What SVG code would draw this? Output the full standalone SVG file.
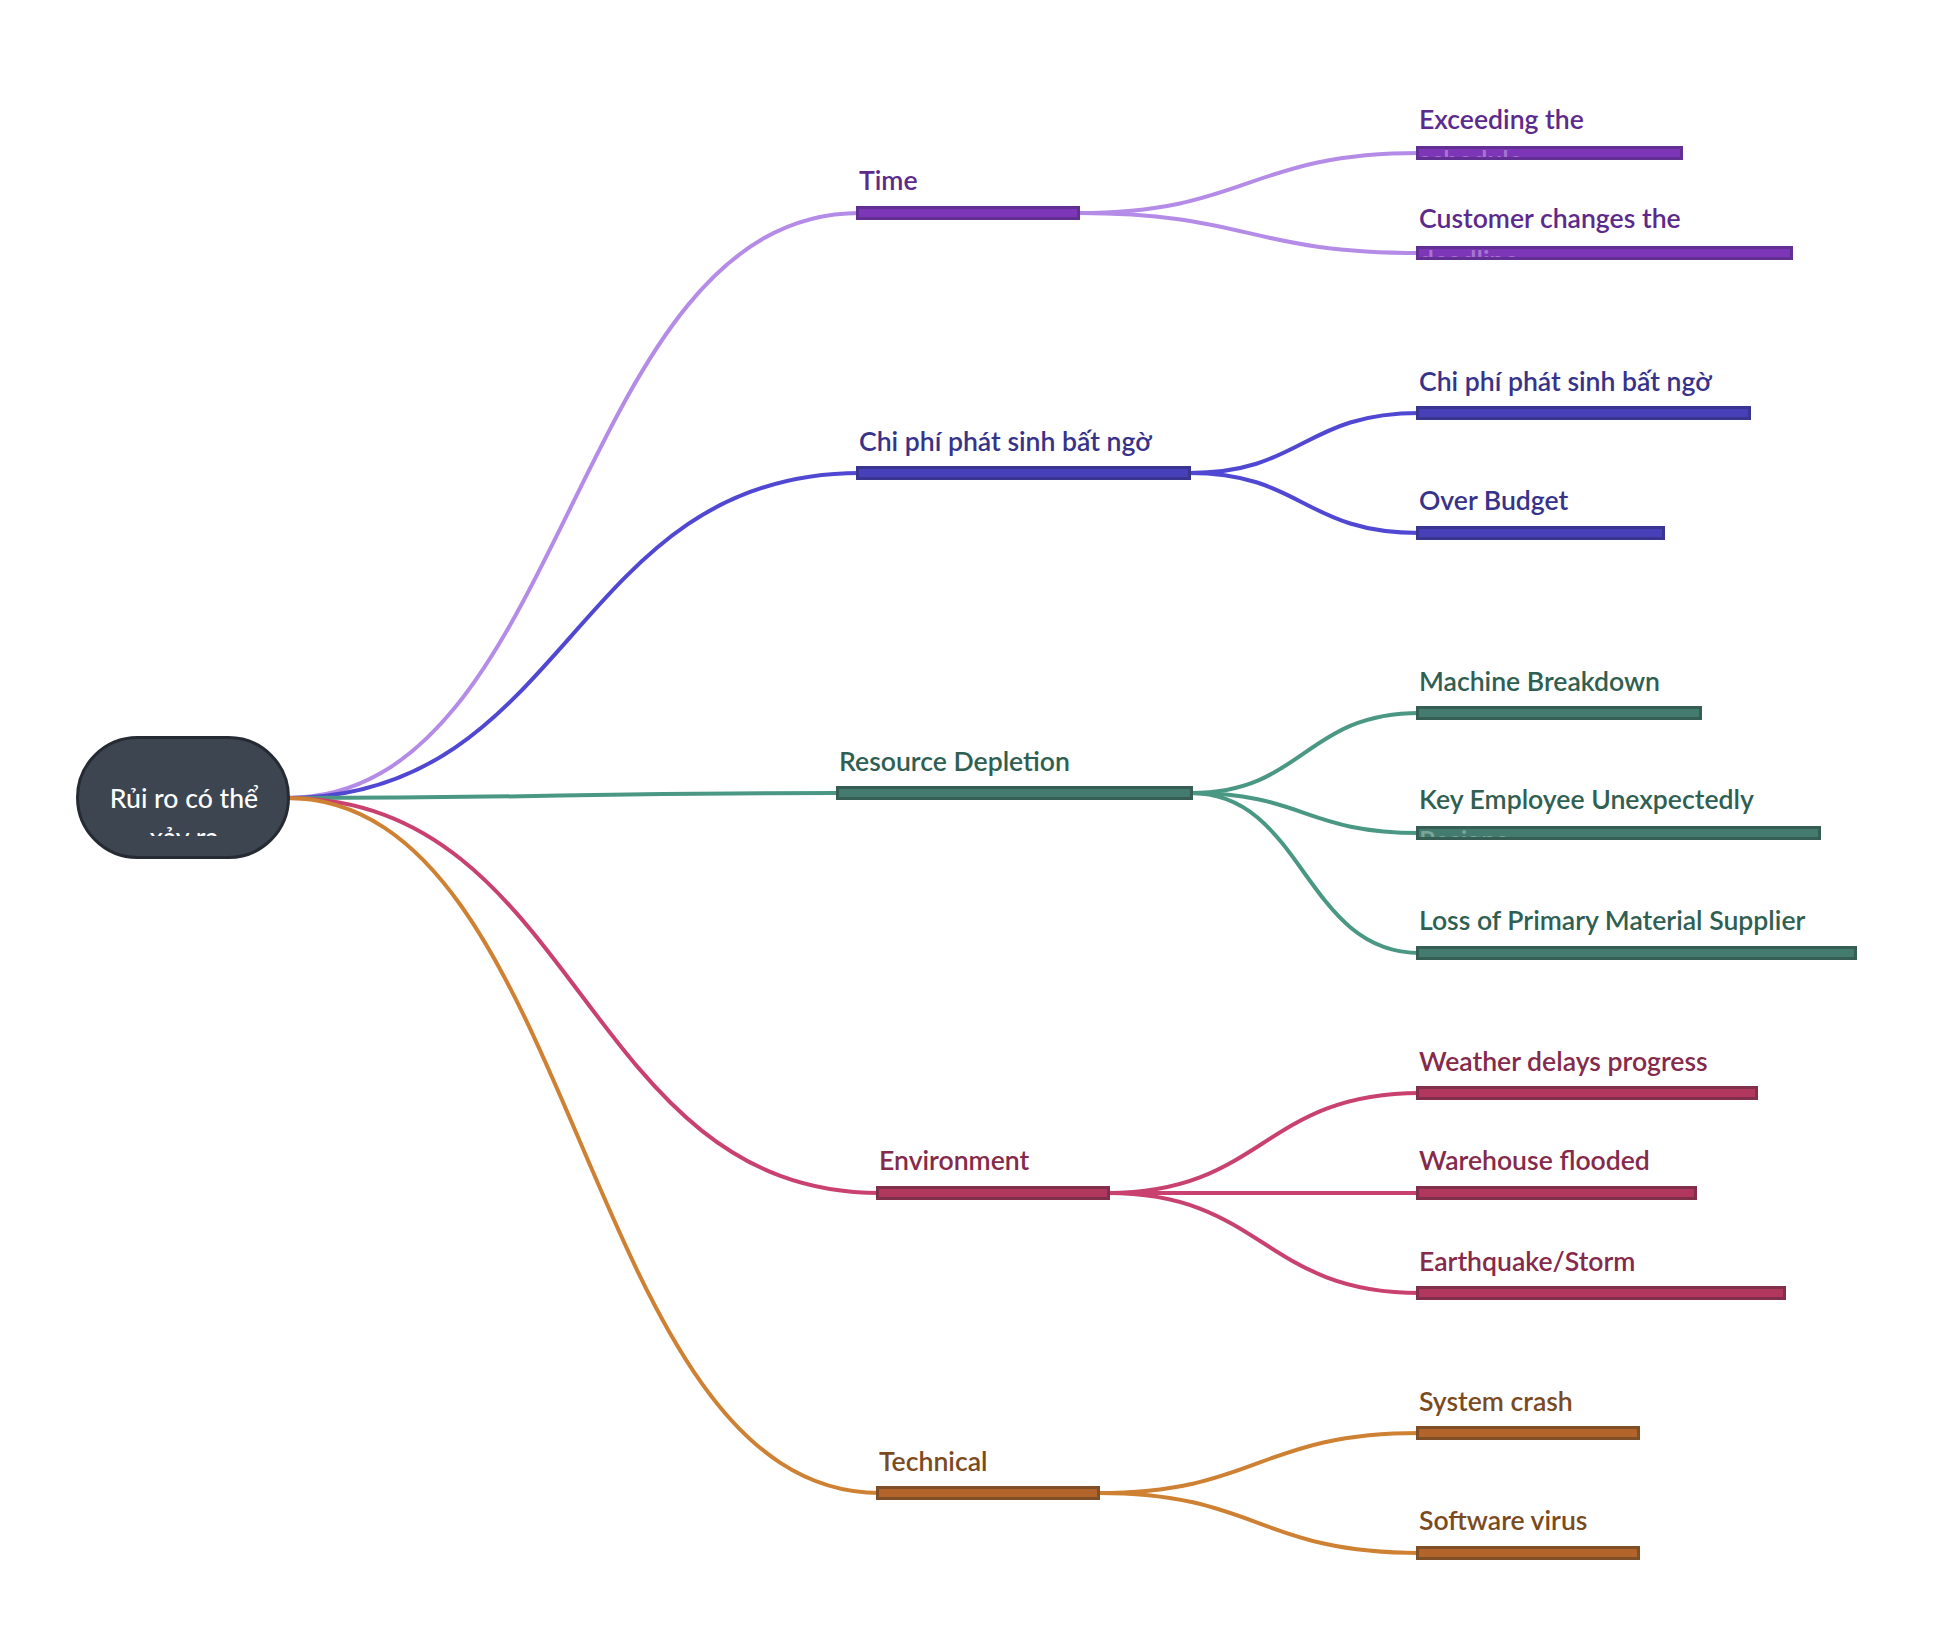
<svg xmlns="http://www.w3.org/2000/svg" width="1933" height="1636" viewBox="0 0 1933 1636">
<style>
.lbl{font-family:Lato,"Noto Sans",sans-serif;font-size:26.6px;font-weight:600}
.conn{fill:none;stroke-width:4;stroke-linecap:round}
.bar{stroke-width:3}
.pu .lbl{fill:#5c2a8c}.pu .bar{fill:#7d36b8;stroke:#613092}.c-pu{stroke:#b48ce8}
.bl .lbl{fill:#37338a}.bl .bar{fill:#4840b8;stroke:#3a3590}.c-bl{stroke:#5047d2}
.gr .lbl{fill:#2f5f52}.gr .bar{fill:#437b6e;stroke:#365e55}.c-gr{stroke:#4a9884}
.rd .lbl{fill:#852a4b}.rd .bar{fill:#b2375e;stroke:#80304a}.c-rd{stroke:#c9426f}
.or .lbl{fill:#7b4a1f}.or .bar{fill:#b2642a;stroke:#7f4f28}.c-or{stroke:#cf8133}
.frag{font-family:Lato,"Noto Sans",sans-serif;font-size:26.6px;font-weight:600;opacity:.4}
</style>
<defs>
<clipPath id="clipRoot"><rect x="76" y="736" width="214" height="100"/></clipPath>
<clipPath id="clipC1"><rect x="1416" y="140" width="300" height="17"/></clipPath>
<clipPath id="clipC2"><rect x="1416" y="240" width="300" height="17"/></clipPath>
<clipPath id="clipC3"><rect x="1416" y="820" width="300" height="17"/></clipPath>
</defs>
<rect width="1933" height="1636" fill="#ffffff"/>
<g id="connectors">
<path class="conn c-pu" d="M287,798 C571,798 571,213 860,213"/>
<path class="conn c-bl" d="M287,798 C571,798 571,473 860,473"/>
<path class="conn c-gr" d="M287,798 C561,798 561,793 840,793"/>
<path class="conn c-rd" d="M287,798 C581,798 581,1193 880,1193"/>
<path class="conn c-or" d="M287,798 C581,798 581,1493 880,1493"/>
<path class="conn c-pu" d="M1078,213 C1248,213 1248,153 1420,153"/>
<path class="conn c-pu" d="M1078,213 C1248,213 1248,253 1420,253"/>
<path class="conn c-bl" d="M1189,473 C1303,473 1303,413 1420,413"/>
<path class="conn c-bl" d="M1189,473 C1303,473 1303,533 1420,533"/>
<path class="conn c-gr" d="M1191,793 C1304,793 1304,713 1420,713"/>
<path class="conn c-gr" d="M1191,793 C1304,793 1304,833 1420,833"/>
<path class="conn c-gr" d="M1191,793 C1304,793 1304,953 1420,953"/>
<path class="conn c-rd" d="M1108,1193 C1263,1193 1263,1093 1420,1093"/>
<path class="conn c-rd" d="M1108,1193 C1263,1193 1263,1193 1420,1193"/>
<path class="conn c-rd" d="M1108,1193 C1263,1193 1263,1293 1420,1293"/>
<path class="conn c-or" d="M1098,1493 C1258,1493 1258,1433 1420,1433"/>
<path class="conn c-or" d="M1098,1493 C1258,1493 1258,1553 1420,1553"/>
</g>
<g id="root">
<rect x="77.5" y="737.5" width="211" height="120" rx="60" fill="#3c4550" stroke="#262b33" stroke-width="3"/>
<text x="184" y="808" text-anchor="middle" font-family="Lato,'Noto Sans',sans-serif" font-size="26.6" font-weight="500" fill="#ffffff">Rủi ro có thể</text>
<text x="184" y="847" text-anchor="middle" font-family="Lato,'Noto Sans',sans-serif" font-size="26.6" font-weight="500" fill="#ffffff" clip-path="url(#clipRoot)">xảy ra</text>
</g>
<g id="n-time" class="pu">
<text class="lbl" x="859" y="190">Time</text>
<rect class="bar" x="857.5" y="207.5" width="221" height="11"/>
</g>
<g id="n-time-1" class="pu">
<text class="lbl" x="1419" y="129">Exceeding the</text>
<rect class="bar" x="1417.5" y="147.5" width="264" height="11"/>
<text class="frag" x="1419" y="170" fill="#e6d4f5" clip-path="url(#clipC1)">schedule</text>
</g>
<g id="n-time-2" class="pu">
<text class="lbl" x="1419" y="228">Customer changes the</text>
<rect class="bar" x="1417.5" y="247.5" width="374" height="11"/>
<text class="frag" x="1419" y="270" fill="#e6d4f5" clip-path="url(#clipC2)">deadline</text>
</g>
<g id="n-cost" class="bl">
<text class="lbl" x="859" y="451">Chi phí phát sinh bất ngờ</text>
<rect class="bar" x="857.5" y="467.5" width="332" height="11"/>
</g>
<g id="n-cost-1" class="bl">
<text class="lbl" x="1419" y="391">Chi phí phát sinh bất ngờ</text>
<rect class="bar" x="1417.5" y="407.5" width="332" height="11"/>
</g>
<g id="n-cost-2" class="bl">
<text class="lbl" x="1419" y="510">Over Budget</text>
<rect class="bar" x="1417.5" y="527.5" width="246" height="11"/>
</g>
<g id="n-res" class="gr">
<text class="lbl" x="839" y="771">Resource Depletion</text>
<rect class="bar" x="837.5" y="787.5" width="354" height="11"/>
</g>
<g id="n-res-1" class="gr">
<text class="lbl" x="1419" y="691">Machine Breakdown</text>
<rect class="bar" x="1417.5" y="707.5" width="283" height="11"/>
</g>
<g id="n-res-2" class="gr">
<text class="lbl" x="1419" y="809">Key Employee Unexpectedly</text>
<rect class="bar" x="1417.5" y="827.5" width="402" height="11"/>
<text class="frag" x="1419" y="850" fill="#cfe5de" clip-path="url(#clipC3)">Resigns</text>
</g>
<g id="n-res-3" class="gr">
<text class="lbl" x="1419" y="930">Loss of Primary Material Supplier</text>
<rect class="bar" x="1417.5" y="947.5" width="438" height="11"/>
</g>
<g id="n-env" class="rd">
<text class="lbl" x="879" y="1170">Environment</text>
<rect class="bar" x="877.5" y="1187.5" width="231" height="11"/>
</g>
<g id="n-env-1" class="rd">
<text class="lbl" x="1419" y="1071">Weather delays progress</text>
<rect class="bar" x="1417.5" y="1087.5" width="339" height="11"/>
</g>
<g id="n-env-2" class="rd">
<text class="lbl" x="1419" y="1170">Warehouse flooded</text>
<rect class="bar" x="1417.5" y="1187.5" width="278" height="11"/>
</g>
<g id="n-env-3" class="rd">
<text class="lbl" x="1419" y="1271">Earthquake/Storm</text>
<rect class="bar" x="1417.5" y="1287.5" width="367" height="11"/>
</g>
<g id="n-tech" class="or">
<text class="lbl" x="879" y="1471">Technical</text>
<rect class="bar" x="877.5" y="1487.5" width="221" height="11"/>
</g>
<g id="n-tech-1" class="or">
<text class="lbl" x="1419" y="1411">System crash</text>
<rect class="bar" x="1417.5" y="1427.5" width="221" height="11"/>
</g>
<g id="n-tech-2" class="or">
<text class="lbl" x="1419" y="1530">Software virus</text>
<rect class="bar" x="1417.5" y="1547.5" width="221" height="11"/>
</g>
</svg>
